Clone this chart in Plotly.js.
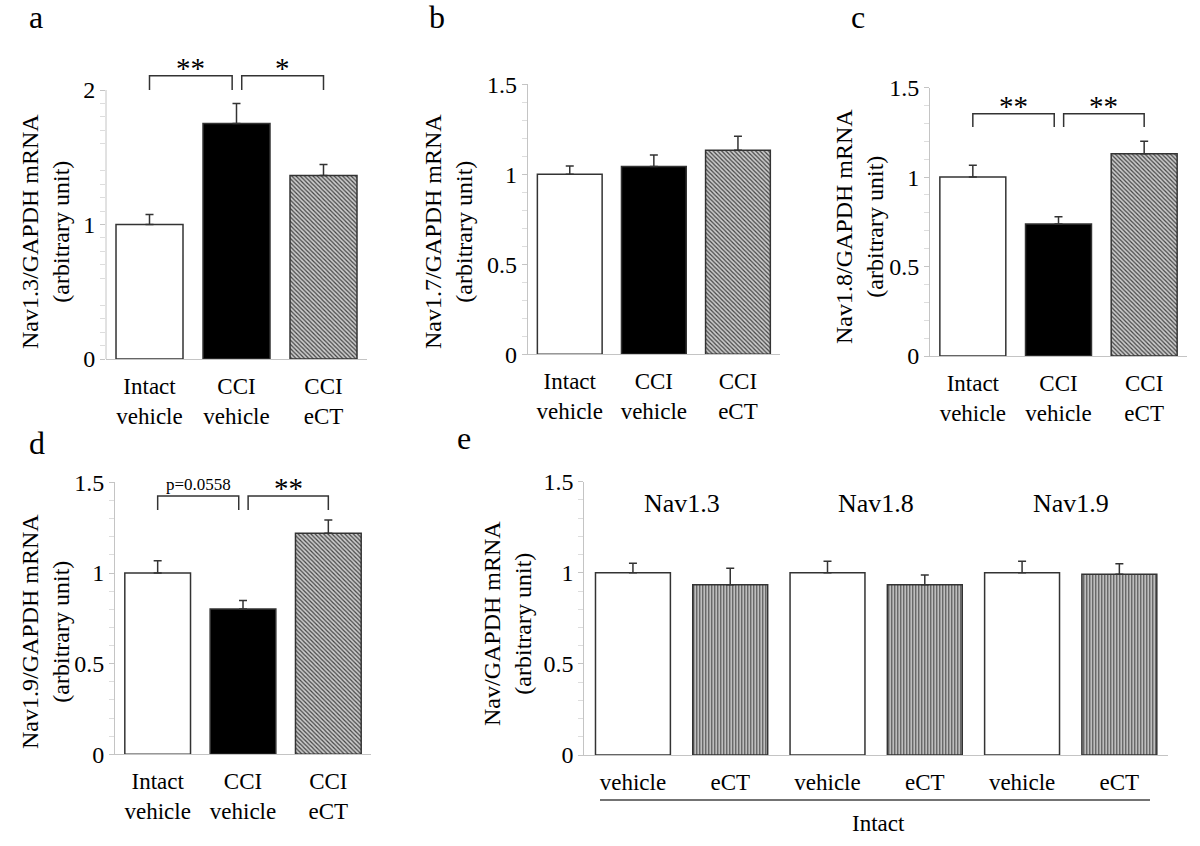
<!DOCTYPE html>
<html>
<head>
<meta charset="utf-8">
<script src="https://cdn.plot.ly/plotly-3.0.1.min.js"></script>
<style>
body { margin: 0; background: #fff; }
#graph { width: 1200px; height: 846px; }
</style>
</head>
<body>
<div id="graph"></div>
<script>
// categories
var cciLabels = ['Intact<br>vehicle', 'CCI<br>vehicle', 'CCI<br>eCT'];
var intactLabels = ['vehicle', 'eCT', 'vehicle', 'eCT', 'vehicle', 'eCT'];
var intactSubtypes = ['Nav1.3', 'Nav1.8', 'Nav1.9'];
var intactGroup = 'Intact';

// mean / SEM
var nav13_mean = [1.0, 1.75, 1.365];
var nav13_sem = [0.075, 0.15, 0.082];
var nav17_mean = [1.0, 1.044, 1.133];
var nav17_sem = [0.046, 0.063, 0.078];
var nav18_mean = [1.0, 0.738, 1.131];
var nav18_sem = [0.066, 0.041, 0.069];
var nav19_mean = [1.0, 0.801, 1.219];
var nav19_sem = [0.068, 0.048, 0.073];
var intact_mean = [1.0, 0.935, 1.0, 0.935, 1.0, 0.992];
var intact_sem = [0.052, 0.09, 0.063, 0.053, 0.063, 0.058];

// significance brackets: [from, to, label]
var nav13_sig = [[0, 1, '**'], [1, 2, '*']];
var nav18_sig = [[0, 1, '**'], [1, 2, '**']];
var nav19_sig = [[0, 1, 'p=0.0558'], [1, 2, '**']];

var yTitles = ['Nav1.3/GAPDH mRNA', 'Nav1.7/GAPDH mRNA', 'Nav1.8/GAPDH mRNA',
	'Nav1.9/GAPDH mRNA', 'Nav/GAPDH mRNA'];
var panelLetters = ['a', 'b', 'c', 'd', 'e'];

var W = 1200, H = 846;
function px(x) { return x / W; }
function py(y) { return 1 - y / H; }

var FONT = 'Liberation Serif, Times New Roman, serif';
var AXIS_GREY = '#c4c4c4';
var EDGE = '#333333';

// pixel geometry of each panel: axis left/right, y of zero, px per unit
var panels = [
	{left: 106, right: 367, y0: 359, unit: 134.5, top: 2, rangeTop: 2.3, majors: [0, 1, 2],
		labels: cciLabels, mean: nav13_mean, sem: nav13_sem, sig: nav13_sig, br: [2.0, 2.106],
		title: [46, 232], letter: [27, 30]},
	{left: 527.7, right: 780, y0: 354.3, unit: 180, top: 1.5, rangeTop: 1.5, majors: [0, 0.5, 1, 1.5],
		labels: cciLabels, mean: nav17_mean, sem: nav17_sem, sig: [], br: null,
		title: [449, 232], letter: [427, 30]},
	{left: 930, right: 1187, y0: 356, unit: 178.9, top: 1.5, rangeTop: 1.5, majors: [0, 0.5, 1, 1.5],
		labels: cciLabels, mean: nav18_mean, sem: nav18_sem, sig: nav18_sig, br: [1.28, 1.354],
		title: [859, 227], letter: [849, 30]},
	{left: 115, right: 371, y0: 754.3, unit: 181.3, top: 1.5, rangeTop: 1.5, majors: [0, 0.5, 1, 1.5],
		labels: cciLabels, mean: nav19_mean, sem: nav19_sem, sig: nav19_sig, br: [1.347, 1.425],
		title: [45, 632], letter: [27, 456]},
	{left: 584.3, right: 1168, y0: 755, unit: 182.2, top: 1.5, rangeTop: 1.5, majors: [0, 0.5, 1, 1.5],
		labels: intactLabels, mean: intact_mean, sem: intact_sem, sig: [], br: null,
		title: [507, 624], letter: [455, 451]}
];

var data = [];
var annotations = [];
var shapes = [];
var layout = {
	width: W, height: H,
	margin: {l: 0, r: 0, t: 0, b: 0},
	paper_bgcolor: '#ffffff',
	plot_bgcolor: 'rgba(0,0,0,0)',
	font: {family: FONT, color: '#000000', size: 23},
	showlegend: false,
	bargap: 0.23
};

panels.forEach(function(p, i) {
	var n = p.labels.length;
	var sfx = i === 0 ? '' : String(i + 1);
	var xa = 'x' + sfx, ya = 'y' + sfx;
	var idx = p.labels.map(function(_, k) { return k; });
	var isE = (n === 6);

	var colors, shapesPat;
	if (isE) {
		colors = idx.map(function(k) { return k % 2 ? '#cccccc' : '#ffffff'; });
		shapesPat = idx.map(function(k) { return k % 2 ? '|' : ''; });
	} else {
		colors = ['#ffffff', '#000000', '#cbcbcb'];
		shapesPat = ['', '', '\\'];
	}

	data.push({
		type: 'bar', x: idx, y: p.mean, xaxis: xa, yaxis: ya,
		marker: {
			color: colors,
			line: {color: EDGE, width: 1.5},
			pattern: {shape: shapesPat, fillmode: 'overlay',
				fgcolor: isE ? '#505050' : '#767676', fgopacity: 1,
				size: 3, solidity: 0.4}
		},
		error_y: {
			type: 'data', symmetric: false, array: p.sem,
			arrayminus: p.sem.map(function() { return 0; }),
			color: EDGE, thickness: 1.5, width: 4
		},
		hoverinfo: 'skip'
	});

	var minorVals = [];
	for (var v = 1; v < p.top * 10; v++) {
		if (v % 5 !== 0) minorVals.push(v / 10);
	}

	layout['xaxis' + sfx] = {
		domain: [px(p.left), px(p.right)],
		anchor: ya,
		range: [-0.5, n - 0.5],
		tickmode: 'array', tickvals: idx, ticktext: p.labels,
		ticks: '', ticklabelstandoff: 6,
		showline: true, linecolor: AXIS_GREY, linewidth: 1,
		showgrid: false, zeroline: false, fixedrange: true,
		tickfont: {size: 23}
	};
	layout['yaxis' + sfx] = {
		domain: [py(p.y0), py(p.y0 - p.rangeTop * p.unit)],
		anchor: xa,
		range: [0, p.rangeTop],
		tickmode: 'array', tickvals: p.majors,
		ticktext: p.majors.map(function(m) { return String(m); }),
		ticks: 'outside', ticklen: 5, tickcolor: AXIS_GREY, tickwidth: 1,
		minor: {tickmode: 'array', tickvals: minorVals, ticks: 'outside', ticklen: 5,
			tickcolor: '#dddddd', tickwidth: 1, showgrid: false},
		showline: p.rangeTop === p.top, linecolor: AXIS_GREY, linewidth: 1,
		showgrid: false, zeroline: false, fixedrange: true,
		tickfont: {size: 24}
	};
	if (p.rangeTop !== p.top) {
		shapes.push({type: 'line', xref: xa + ' domain', yref: ya + ' domain',
			x0: 0, x1: 0, y0: 0, y1: p.top / p.rangeTop,
			line: {color: AXIS_GREY, width: 1}});
	}

	// significance brackets
	p.sig.forEach(function(s) {
		var x0 = s[0] + (s[0] > 0 ? 0.06 : 0);
		var x1 = s[1] - (s[1] < n - 1 ? 0.05 : 0);
		data.push({
			type: 'scatter', mode: 'lines', xaxis: xa, yaxis: ya,
			x: [x0, x0, x1, x1], y: [p.br[0], p.br[1], p.br[1], p.br[0]],
			line: {color: EDGE, width: 1.5}, hoverinfo: 'skip'
		});
		var isP = s[2].charAt(0) === 'p';
		annotations.push({
			xref: xa, yref: ya, x: (x0 + x1) / 2, y: p.br[1],
			xanchor: 'center', yanchor: 'bottom',
			yshift: isP ? 0 : -10,
			text: s[2], showarrow: false,
			font: {size: isP ? 17 : 29}
		});
	});

	// y axis title
	annotations.push({
		xref: 'paper', yref: 'paper', x: px(p.title[0]), y: py(p.title[1]),
		xanchor: 'center', yanchor: 'middle', textangle: -90,
		text: yTitles[i] + '<br>(arbitrary unit)', showarrow: false,
		font: {size: 24}
	});

	// panel letter
	annotations.push({
		xref: 'paper', yref: 'paper', x: px(p.letter[0]), y: py(p.letter[1] + 7),
		xanchor: 'left', yanchor: 'bottom',
		text: panelLetters[i], showarrow: false, font: {size: 32}
	});

	if (isE) {
		intactSubtypes.forEach(function(name, g) {
			annotations.push({
				xref: xa, yref: ya, x: 2 * g + 0.5, y: 1.378,
				xanchor: 'center', yanchor: 'middle',
				text: name, showarrow: false, font: {size: 26}
			});
		});
		shapes.push({type: 'line', xref: xa + ' domain', yref: ya + ' domain',
			x0: (600 - p.left) / (p.right - p.left), x1: (1150 - p.left) / (p.right - p.left),
			y0: -(800 - p.y0) / (p.rangeTop * p.unit), y1: -(800 - p.y0) / (p.rangeTop * p.unit),
			line: {color: '#444444', width: 1.5}});
		annotations.push({
			xref: 'paper', yref: 'paper', x: px(878), y: py(823),
			xanchor: 'center', yanchor: 'middle',
			text: intactGroup, showarrow: false, font: {size: 23}
		});
	}
});

layout.annotations = annotations;
layout.shapes = shapes;

Plotly.newPlot('graph', data, layout, {staticPlot: true, displayModeBar: false});
</script>
</body>
</html>
